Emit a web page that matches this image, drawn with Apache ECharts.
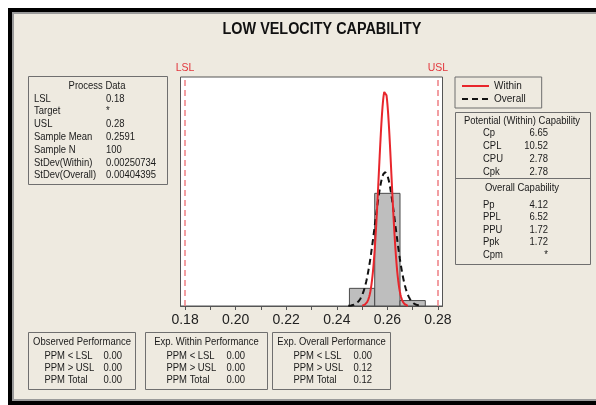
<!DOCTYPE html>
<html><head><meta charset="utf-8">
<script src="https://cdn.jsdelivr.net/npm/echarts@6/dist/echarts.min.js"></script>
<style>
html,body{margin:0;padding:0;background:#fff;overflow:hidden;}
#frame{position:absolute;left:8px;top:8px;width:600px;height:389px;background:#EEEAE0;border-left:4px solid #000;border-top:4px solid #000;border-bottom:4px solid #000;box-shadow:inset 2px 2px 0 #9a9a9a, inset 0 -2px 0 #9a9a9a;}
#chart{position:absolute;left:0;top:0;width:596px;height:405px;}
</style></head><body><div id="frame"></div><div id="chart"></div>
<script>
// ---- data ----
const binEdges = [0.245, 0.255, 0.265, 0.275];
const binCounts = [13, 83, 4];
const sampleN = 100;
const sampleMean = 0.2591;
const stdevWithin = 0.00250734;
const stdevOverall = 0.00404395;
const specLimits = [0.18, 0.28];
const specNames = ['LSL', 'USL'];
const xTickLabels = [0.18, 0.20, 0.22, 0.24, 0.26, 0.28];
const xMinorTicks = [0.18, 0.19, 0.20, 0.21, 0.22, 0.23, 0.24, 0.25, 0.26, 0.27, 0.28];
const seriesNames = ['Within', 'Overall'];

const processTitle = 'Process Data';
const processLabels = ['LSL', 'Target', 'USL', 'Sample Mean', 'Sample N', 'StDev(Within)', 'StDev(Overall)'];
const processValues = ['0.18', '*', '0.28', '0.2591', '100', '0.00250734', '0.00404395'];
const potentialTitle = 'Potential (Within) Capability';
const potentialLabels = ['Cp', 'CPL', 'CPU', 'Cpk'];
const potentialValues = ['6.65', '10.52', '2.78', '2.78'];
const overallTitle = 'Overall Capability';
const overallLabels = ['Pp', 'PPL', 'PPU', 'Ppk', 'Cpm'];
const overallValues = ['4.12', '6.52', '1.72', '1.72', '*'];
const perfTitles = ['Observed Performance', 'Exp. Within Performance', 'Exp. Overall Performance'];
const perfLabels = ['PPM < LSL', 'PPM > USL', 'PPM Total'];
const observedValues = ['0.00', '0.00', '0.00'];
const expWithinValues = ['0.00', '0.00', '0.00'];
const expOverallValues = ['0.00', '0.12', '0.12'];
const chartTitle = 'LOW VELOCITY CAPABILITY';

// ---- derived ----
const binWidth = binEdges[1] - binEdges[0];
const histData = binCounts.map((c, i) => [binEdges[i], binEdges[i + 1], c / (sampleN * binWidth)]);
function normalCurve(mu, sd) {
  const pts = [];
  const n = 160, a = mu - 3.6 * sd, b = mu + 3.6 * sd;
  for (let i = 0; i <= n; i++) {
    const x = a + (b - a) * i / n;
    pts.push([x, Math.exp(-0.5 * ((x - mu) / sd) ** 2) / (sd * Math.sqrt(2 * Math.PI))]);
  }
  return pts;
}

const FONT = '"Liberation Sans"';
const FS = 11;
const SX = 0.86;
const TXT = '#1a1a1a';
const BOX = '#6f6f6f';
const g = [];
function box(x, y, w, h) { g.push({type: 'rect', shape: {x, y, width: w, height: h}, style: {fill: 'none', stroke: BOX, lineWidth: 1}, silent: true}); }
function hline(x1, x2, y) { g.push({type: 'line', shape: {x1, y1: y, x2, y2: y}, style: {stroke: BOX, lineWidth: 1}, silent: true}); }
function txt(s, x, y, align) { g.push({type: 'text', x, y, scaleX: SX, silent: true, style: {text: s, fill: TXT, font: FS + 'px ' + FONT, textAlign: align || 'left', textVerticalAlign: 'middle'}}); }

// title
g.push({type: 'text', x: 322, y: 30, scaleX: 0.9, silent: true, style: {text: chartTitle, fill: '#111', font: 'bold 16px ' + FONT, textAlign: 'center', textVerticalAlign: 'middle'}});

// process data
box(28.5, 76.5, 139, 108);
txt(processTitle, 97, 86, 'center');
processLabels.forEach((l, i) => { txt(l, 34, 98.5 + i * 12.8); txt(processValues[i], 106, 98.5 + i * 12.8); });

// capability box
box(455.5, 112.5, 135, 152);
hline(455.5, 590.5, 178.5);
txt(potentialTitle, 522, 120.5, 'center');
potentialLabels.forEach((l, i) => { txt(l, 483, 132.5 + i * 13); txt(potentialValues[i], 548, 132.5 + i * 13, 'right'); });
txt(overallTitle, 522, 188, 'center');
overallLabels.forEach((l, i) => { txt(l, 483, 204.5 + i * 12.6); txt(overallValues[i], 548, 204.5 + i * 12.6, 'right'); });

// performance boxes
const perfBoxes = [[28.5, 107, observedValues], [145.5, 122, expWithinValues], [272.5, 118, expOverallValues]];
perfBoxes.forEach(([x, w, vals], k) => {
  box(x, 332.5, w, 57);
  txt(perfTitles[k], x + w / 2, 342, 'center');
  const lx = x + (k === 0 ? 16 : 21), vx = x + (k === 0 ? 75 : 81);
  perfLabels.forEach((l, i) => { txt(l, lx, 355.5 + i * 12.3); txt(vals[i], vx, 355.5 + i * 12.3); });
});

const chart = echarts.init(document.getElementById('chart'));
chart.setOption({
  animation: false,
  backgroundColor: 'transparent',
  grid: {left: 180.5, top: 77, width: 262, height: 229, show: true, backgroundColor: '#fff', borderColor: '#555', borderWidth: 1},
  legend: {
    data: seriesNames, orient: 'vertical', left: 455, top: 77, padding: [4, 16, 4, 6], itemGap: 3,
    itemWidth: 27, itemHeight: 10, borderColor: BOX, borderWidth: 1,
    itemStyle: {opacity: 0},
    textStyle: {fontFamily: 'Liberation Sans', fontSize: 10, color: TXT}
  },
  xAxis: {
    type: 'value', min: 0.1782, max: 0.2818,
    axisLine: {show: true, lineStyle: {color: '#555'}},
    axisTick: {show: true, customValues: xMinorTicks, length: 4, lineStyle: {color: '#555'}},
    axisLabel: {customValues: xTickLabels, formatter: v => v.toFixed(2), fontFamily: 'Liberation Sans', fontSize: 14, color: '#222', margin: 7},
    splitLine: {show: false}
  },
  yAxis: {type: 'value', min: 0, max: 168.7, show: false},
  series: [
    {
      type: 'custom', name: 'Histogram', data: histData, encode: {x: [0, 1], y: 2}, z: 2,
      renderItem: (params, api) => {
        const p0 = api.coord([api.value(0), api.value(2)]);
        const p1 = api.coord([api.value(1), 0]);
        return {type: 'rect', shape: {x: p0[0], y: p0[1], width: p1[0] - p0[0], height: p1[1] - p0[1]}, style: {fill: '#BEBEBE', stroke: '#4a4a4a', lineWidth: 1}};
      },
      markLine: {
        silent: true, symbol: 'none',
        lineStyle: {color: '#EE7F84', type: [6, 4], width: 1.5},
        label: {show: true, position: 'end', formatter: '{b}', color: '#E2363C', fontFamily: 'Liberation Sans', fontSize: 10.5, distance: 3},
        data: specLimits.map((v, i) => ({xAxis: v, name: specNames[i]}))
      }
    },
    {type: 'line', name: seriesNames[0], data: normalCurve(sampleMean, stdevWithin), showSymbol: false, symbol: 'none', z: 4,
      lineStyle: {color: '#E8262C', width: 2}, itemStyle: {color: '#E8262C'}},
    {type: 'line', name: seriesNames[1], data: normalCurve(sampleMean, stdevOverall), showSymbol: false, symbol: 'none', z: 3,
      lineStyle: {color: '#111', width: 2, type: [6, 4]}, itemStyle: {color: '#111'}}
  ],
  graphic: g
});
</script></body></html>
